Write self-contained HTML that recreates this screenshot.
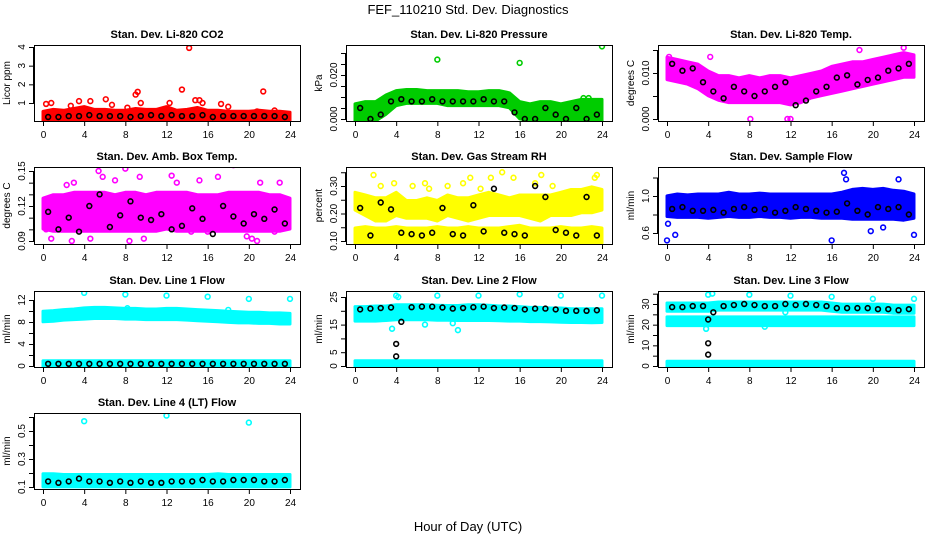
<!DOCTYPE html>
<html><head><meta charset="utf-8">
<style>
html,body{margin:0;padding:0;background:#fff;}
svg{display:block;font-family:"Liberation Sans",Arial,sans-serif;}
</style></head>
<body>
<svg id="chart" width="936" height="540" viewBox="0 0 936 540" xmlns="http://www.w3.org/2000/svg">
<text x="468" y="14" font-size="13" text-anchor="middle">FEF_110210  Std. Dev. Diagnostics</text>
<text x="468" y="531" font-size="13" text-anchor="middle">Hour of Day (UTC)</text>
</svg>
<script>
// ---- data ----
const bandHours = [0,1,2,3,4,5,6,7,8,9,10,11,12,13,14,15,16,17,18,19,20,21,22,23,24];
const blackHours = [0.5,1.5,2.5,3.5,4.5,5.5,6.5,7.5,8.5,9.5,10.5,11.5,12.5,13.5,14.5,15.5,16.5,17.5,18.5,19.5,20.5,21.5,22.5,23.5];
const xTicks = [0,4,8,12,16,20,24];

// P1 CO2
const co2Lo = [0.18,0.18,0.18,0.18,0.18,0.18,0.18,0.18,0.18,0.18,0.18,0.18,0.18,0.18,0.18,0.18,0.18,0.18,0.18,0.18,0.18,0.18,0.18,0.18,0.18];
const co2Hi = [0.45,0.55,0.5,0.6,0.7,0.55,0.55,0.5,0.5,0.6,0.55,0.55,0.7,0.5,0.55,0.65,0.5,0.5,0.45,0.45,0.45,0.5,0.45,0.45,0.4];
const co2Black = [0.25,0.25,0.3,0.3,0.35,0.3,0.3,0.3,0.25,0.3,0.35,0.3,0.35,0.3,0.3,0.35,0.25,0.3,0.3,0.3,0.3,0.3,0.3,0.25];
const co2OutX = [14.2,13.5,21.4,9.2,9.0,9.5,12.3,6.1,3.5,4.6,0.8,17.3,14.8,15.2,15.5,22.5,20.8,2.7,6.7,8.2,18,0.3];
const co2OutY = [3.95,1.72,1.62,1.6,1.45,1.0,1.0,1.2,1.1,1.1,1.0,0.95,1.15,1.15,1.0,0.6,0.55,0.85,0.9,0.75,0.8,0.95];

// P2 pressure
const presLo = [0.0,0.0,0.0,0.003,0.007,0.008,0.008,0.008,0.008,0.007,0.007,0.007,0.007,0.007,0.007,0.006,0.001,0.0,0.0,0.0,0.0,0.0,0.0,0.0,0.0];
const presHi = [0.006,0.007,0.007,0.01,0.012,0.0125,0.0125,0.012,0.012,0.012,0.012,0.0115,0.0115,0.012,0.012,0.011,0.007,0.006,0.007,0.007,0.006,0.007,0.008,0.008,0.008];
const presBlack = [0.005,0.0,0.002,0.008,0.009,0.008,0.008,0.009,0.008,0.008,0.008,0.008,0.009,0.008,0.008,0.003,0.0,0.0,0.005,0.002,0.0,0.005,0.0,0.002];
const presOutX = [8,16,24,14.2,22.2,22.7];
const presOutY = [0.027,0.0255,0.033,0.0105,0.0095,0.0095];

// P3 Li-820 temp
const ltLo = [0.009,0.0085,0.008,0.007,0.0055,0.0045,0.004,0.004,0.004,0.004,0.004,0.004,0.0035,0.004,0.005,0.0055,0.006,0.0065,0.007,0.0075,0.008,0.0085,0.009,0.0095,0.0095];
const ltHi = [0.013,0.0125,0.012,0.0115,0.01,0.009,0.009,0.0085,0.009,0.0085,0.009,0.009,0.0085,0.009,0.0095,0.01,0.011,0.0115,0.012,0.012,0.0125,0.013,0.0135,0.014,0.0135];
const ltBlack = [0.012,0.0105,0.011,0.008,0.006,0.0045,0.007,0.006,0.005,0.006,0.007,0.008,0.003,0.004,0.006,0.007,0.009,0.0095,0.0075,0.0085,0.009,0.0105,0.011,0.012];
const ltOutX = [8.1,11.7,12,4.2,18.7,23,0.2];
const ltOutY = [0.0,0.0,0.0,0.0135,0.015,0.0155,0.0135];

// P4 amb box temp
const abLo = [0.102,0.1,0.1,0.1,0.1,0.1,0.1,0.1,0.1,0.1,0.1,0.1,0.102,0.1,0.1,0.1,0.1,0.1,0.1,0.1,0.1,0.1,0.1,0.1,0.102];
const abHi = [0.125,0.128,0.128,0.13,0.13,0.13,0.13,0.128,0.13,0.13,0.128,0.13,0.13,0.13,0.13,0.128,0.128,0.128,0.13,0.13,0.13,0.13,0.128,0.128,0.125];
const abBlack = [0.115,0.1,0.11,0.098,0.12,0.13,0.102,0.112,0.124,0.11,0.108,0.113,0.1,0.103,0.118,0.109,0.096,0.12,0.111,0.105,0.113,0.109,0.117,0.105];
const abOutX = [0.3,0.8,2.3,2.8,3.0,4.6,5.4,5.8,6.5,6.9,7.0,8.0,8.4,9.4,9.8,12.5,13.0,14.4,15.2,16.0,17.0,18.5,19.8,20.3,20.8,21.1,22.5,23.0];
const abOutY = [0.1,0.092,0.138,0.09,0.14,0.092,0.15,0.145,0.156,0.158,0.142,0.152,0.09,0.145,0.092,0.146,0.14,0.098,0.142,0.098,0.145,0.155,0.094,0.092,0.09,0.14,0.098,0.14];

// P5 RH
const rhLo = [0.1,0.1,0.1,0.1,0.1,0.1,0.1,0.1,0.1,0.1,0.1,0.1,0.1,0.1,0.1,0.1,0.1,0.1,0.1,0.1,0.1,0.1,0.1,0.1,0.1];
const rhHi = [0.14,0.145,0.14,0.14,0.145,0.14,0.14,0.14,0.145,0.14,0.14,0.145,0.14,0.14,0.14,0.145,0.15,0.14,0.14,0.14,0.145,0.14,0.14,0.145,0.14];
const rhUpLo = [0.22,0.2,0.18,0.18,0.2,0.19,0.19,0.19,0.18,0.2,0.19,0.18,0.19,0.2,0.2,0.2,0.2,0.19,0.18,0.2,0.2,0.2,0.21,0.21,0.22];
const rhUpHi = [0.27,0.26,0.25,0.25,0.27,0.24,0.24,0.25,0.24,0.26,0.25,0.25,0.26,0.27,0.26,0.25,0.26,0.26,0.26,0.26,0.27,0.28,0.28,0.29,0.28];
const rhBlack = [0.22,0.12,0.24,0.215,0.13,0.125,0.12,0.13,0.22,0.125,0.12,0.23,0.135,0.29,0.13,0.125,0.12,0.3,0.26,0.14,0.13,0.12,0.26,0.12];
const rhOutX = [1.8,2.5,3.8,5.6,6.8,7.2,9.0,10.5,11.2,12.2,13.2,14.3,15.4,17.5,18.1,19.2,23.3,23.5];
const rhOutY = [0.34,0.3,0.31,0.3,0.31,0.29,0.3,0.31,0.33,0.29,0.33,0.35,0.33,0.31,0.34,0.3,0.33,0.34];

// P6 sample flow
const sfLo = [0.8,0.79,0.79,0.79,0.78,0.79,0.8,0.79,0.79,0.8,0.79,0.79,0.78,0.79,0.79,0.78,0.78,0.78,0.77,0.77,0.77,0.77,0.77,0.76,0.78];
const sfHi = [0.98,1.0,0.99,1.0,1.0,1.0,1.02,1.0,1.0,1.01,1.0,1.0,1.0,1.0,1.0,1.0,1.0,1.02,1.05,1.06,1.05,1.06,1.04,1.03,1.0];
const sfBlack = [0.86,0.88,0.84,0.84,0.85,0.82,0.86,0.88,0.85,0.86,0.82,0.84,0.88,0.86,0.84,0.82,0.83,0.92,0.84,0.8,0.88,0.86,0.88,0.8];
const sfOutX = [0,16,17.2,24,0.8,0.1,17.4,19.8,21.0,22.5];
const sfOutY = [0.52,0.52,1.25,0.58,0.58,0.7,1.18,0.62,0.66,1.18];

// P7 line 1
const l1Lo = [8.4,8.5,8.7,8.8,8.9,9.0,9.0,9.0,8.9,8.9,8.8,8.8,8.8,8.8,8.7,8.6,8.5,8.4,8.3,8.2,8.2,8.1,8.1,8.0,8.0];
const l1Hi = [9.6,9.7,9.9,10.0,10.2,10.3,10.3,10.2,10.1,10.1,10.0,10.0,10.1,10.1,10.0,9.9,9.8,9.7,9.6,9.5,9.4,9.4,9.3,9.3,9.2];
const l1Low = [0.15,0.15,0.15,0.15,0.15,0.15,0.15,0.15,0.15,0.15,0.15,0.15,0.15,0.15,0.15,0.15,0.15,0.15,0.15,0.15,0.15,0.15,0.15,0.15,0.15];
const l1LowHi = [0.6,0.6,0.6,0.6,0.6,0.6,0.6,0.6,0.6,0.6,0.6,0.6,0.6,0.6,0.6,0.6,0.6,0.6,0.6,0.6,0.6,0.6,0.6,0.6,0.6];
const l1Black = [0.4,0.4,0.4,0.4,0.4,0.4,0.4,0.4,0.4,0.4,0.4,0.4,0.4,0.4,0.4,0.4,0.4,0.4,0.4,0.4,0.4,0.4,0.4,0.4];
const l1OutX = [4,8,12,16,20,24,8.2,18];
const l1OutY = [13.3,13.0,12.8,12.6,12.2,12.2,10.5,10.2];

// P8 line 2
const l2Lo = [17,17,17,17.2,17.5,17.5,17.5,17.5,17.3,17.3,17.2,17.2,17.2,17.2,17.1,17.0,17.0,16.8,16.8,16.7,16.6,16.5,16.5,16.4,16.5];
const l2Hi = [20.8,20.8,21,21,21.5,21.5,21.5,21.5,21.3,21.2,21.2,21.5,21.5,21.3,21,21,20.8,20.5,20.5,20.3,20.3,20,20,20,20];
const l2Low = [0.2,0.2,0.2,0.2,0.2,0.2,0.2,0.2,0.2,0.2,0.2,0.2,0.2,0.2,0.2,0.2,0.2,0.2,0.2,0.2,0.2,0.2,0.2,0.2,0.2];
const l2LowHi = [1.2,1.2,1.2,1.2,1.2,1.2,1.2,1.2,1.2,1.2,1.2,1.2,1.2,1.2,1.2,1.2,1.2,1.2,1.2,1.2,1.2,1.2,1.2,1.2,1.2];
const l2Black = [20.5,20.8,21,21.2,16,21.3,21.5,21.5,21.2,20.8,21,21.3,21.5,21,21.2,21,20.5,20.8,20.8,20.5,20,20,20,20.2];
const l2BOutX = [4,4];
const l2BOutY = [8,3.5];
const l2OutX = [4,8,12,16,20,24,3.6,6.8,9.5,10.0,4.2];
const l2OutY = [25.5,25.5,25.5,26,25.5,25.5,13.5,15,15.5,13,25];

// P9 line 3
const l3Lo = [20.5,20.5,20.5,20.5,20.5,20.5,20.5,20.5,20.5,20.5,20.5,20.5,20.5,20.5,20.5,20.5,20.5,20.5,20.5,20.5,20.5,20.5,20.5,20.5,20.5];
const l3Hi = [22.8,22.8,22.8,22.8,22.8,22.8,22.8,22.8,22.8,22.8,22.8,22.8,22.8,22.8,22.8,22.8,22.8,22.8,22.8,22.8,22.8,22.8,22.8,22.8,22.8];
const l3Low = [0.2,0.2,0.2,0.2,0.2,0.2,0.2,0.2,0.2,0.2,0.2,0.2,0.2,0.2,0.2,0.2,0.2,0.2,0.2,0.2,0.2,0.2,0.2,0.2,0.2];
const l3LowHi = [1.3,1.3,1.3,1.3,1.3,1.3,1.3,1.3,1.3,1.3,1.3,1.3,1.3,1.3,1.3,1.3,1.3,1.3,1.3,1.3,1.3,1.3,1.3,1.3,1.3];
const l3TopLo = [27.5,27.5,27.5,27.5,27.5,28,28,28,28,28,28,28,28,28,28,28,27.5,27,27,27,27,27,26.5,26.5,26.5];
const l3TopHi = [29.5,29.5,29.5,29.5,29.5,30,30,30,30,30,30,30,30,30,30,30,29.5,29,29,29,29,29,28.5,28.5,28.5];
const l3Black = [28.5,28.5,29,29,26,29,29.5,30,29.5,29,29,30,29.5,30,29.5,29,28,28,28,28,27.5,27.5,27,27.5];
const l3BOutX = [4,4,4];
const l3BOutY = [22.5,11,5.5];
const l3OutX = [4,4.4,8,12,16,20,24,3.8,9.5,11.5];
const l3OutY = [34.5,35,34.5,34,33.5,32.5,32.5,18,19,26];

// P10 line 4
const l4Lo = [0.115,0.115,0.115,0.115,0.115,0.115,0.115,0.115,0.115,0.115,0.115,0.115,0.115,0.115,0.115,0.115,0.115,0.115,0.115,0.115,0.115,0.115,0.115,0.115,0.115];
const l4Hi = [0.18,0.18,0.175,0.175,0.175,0.175,0.175,0.175,0.175,0.175,0.175,0.175,0.175,0.175,0.175,0.175,0.175,0.18,0.175,0.175,0.175,0.175,0.175,0.175,0.175];
const l4Black = [0.14,0.13,0.14,0.16,0.14,0.14,0.13,0.14,0.13,0.14,0.13,0.13,0.14,0.14,0.14,0.15,0.14,0.14,0.15,0.15,0.15,0.14,0.14,0.15];
const l4OutX = [4,12,20];
const l4OutY = [0.57,0.61,0.56];

// ---- drawing ----
const NS = "http://www.w3.org/2000/svg";
const svg = document.getElementById('chart');
function mk(tag, attrs, parent){
  const e = document.createElementNS(NS, tag);
  for (const k in attrs) e.setAttribute(k, attrs[k]);
  (parent||svg).appendChild(e);
  return e;
}

const panels = [
 {name:'co2',title:'Stan. Dev. Li-820 CO2',ylab:'Licor ppm',box:[34,45,300,121],v0:1,p0:103,v1:4,p1:47,
  yt:[1,2,3,4],yl:['1','2','3','4'],color:'#ff0000',
  bands:[[co2Lo,co2Hi]],black:co2Black,outX:co2OutX,outY:co2OutY},
 {name:'pressure',title:'Stan. Dev. Li-820 Pressure',ylab:'kPa',box:[346,45,612,121],v0:0,p0:119,v1:0.02,p1:75,
  yt:[0,0.005,0.01,0.015,0.02,0.025,0.03],yl:['0.000','','','','0.020','',''],color:'#00cc00',
  bands:[[presLo,presHi]],black:presBlack,outX:presOutX,outY:presOutY},
 {name:'li820-temp',title:'Stan. Dev. Li-820 Temp.',ylab:'degrees C',box:[658,45,924,121],v0:0,p0:119,v1:0.01,p1:73,
  yt:[0,0.005,0.01,0.015],yl:['0.000','','0.010',''],color:'#ff00ff',
  bands:[[ltLo,ltHi]],black:ltBlack,outX:ltOutX,outY:ltOutY},
 {name:'amb-box-temp',title:'Stan. Dev. Amb. Box Temp.',ylab:'degrees C',box:[34,167,300,244],v0:0.09,p0:241,v1:0.15,p1:171,
  yt:[0.09,0.1,0.11,0.12,0.13,0.14,0.15],yl:['0.09','','','0.12','','','0.15'],color:'#ff00ff',
  bands:[[abLo,abHi]],black:abBlack,outX:abOutX,outY:abOutY},
 {name:'gas-rh',title:'Stan. Dev. Gas Stream RH',ylab:'percent',box:[346,167,612,244],v0:0.1,p0:241,v1:0.3,p1:186,
  yt:[0.1,0.15,0.2,0.25,0.3,0.35],yl:['0.10','','0.20','','0.30',''],color:'#ffff00',
  bands:[[rhLo,rhHi],[rhUpLo,rhUpHi]],black:rhBlack,outX:rhOutX,outY:rhOutY},
 {name:'sample-flow',title:'Stan. Dev. Sample Flow',ylab:'ml/min',box:[658,167,924,244],v0:0.6,p0:233,v1:1.0,p1:196,
  yt:[0.6,0.8,1.0,1.2],yl:['0.6','','1.0',''],color:'#0000ff',
  bands:[[sfLo,sfHi]],black:sfBlack,outX:sfOutX,outY:sfOutY},
 {name:'line1-flow',title:'Stan. Dev. Line 1 Flow',ylab:'ml/min',box:[34,291,300,367],v0:0,p0:366,v1:12,p1:300,
  yt:[0,2,4,6,8,10,12],yl:['0','','4','','8','','12'],color:'#00ffff',
  bands:[[l1Lo,l1Hi],[l1Low,l1LowHi]],black:l1Black,outX:l1OutX,outY:l1OutY},
 {name:'line2-flow',title:'Stan. Dev. Line 2 Flow',ylab:'ml/min',box:[346,291,612,367],v0:0,p0:366,v1:25,p1:297,
  yt:[0,5,10,15,20,25],yl:['0','5','','15','','25'],color:'#00ffff',
  bands:[[l2Lo,l2Hi],[l2Low,l2LowHi]],black:l2Black,bx:l2BOutX,by:l2BOutY,outX:l2OutX,outY:l2OutY},
 {name:'line3-flow',title:'Stan. Dev. Line 3 Flow',ylab:'ml/min',box:[658,291,924,367],v0:0,p0:366,v1:30,p1:304,
  yt:[0,5,10,15,20,25,30,35],yl:['0','','10','','20','','30',''],color:'#00ffff',
  bands:[[l3Lo,l3Hi],[l3Low,l3LowHi],[l3TopLo,l3TopHi]],black:l3Black,bx:l3BOutX,by:l3BOutY,outX:l3OutX,outY:l3OutY},
 {name:'line4-flow',title:'Stan. Dev. Line 4 (LT) Flow',ylab:'ml/min',box:[34,413,300,489],v0:0.1,p0:487,v1:0.5,p1:431,
  yt:[0.1,0.2,0.3,0.4,0.5,0.6],yl:['0.1','','0.3','','0.5',''],color:'#00ffff',
  bands:[[l4Lo,l4Hi]],black:l4Black,outX:l4OutX,outY:l4OutY}
];

panels.forEach(P => {
  const [L,T,R,B] = P.box;
  const g = mk('g',{});
  
  
  const xs = v => 43 + (v/24)*(290-43) + (L-34);
  const ys = v => P.p0 + (v-P.v0)*(P.p1-P.p0)/(P.v1-P.v0);
  const clip = 'clip-' + P.name;
  const cp = mk('clipPath',{id:clip},g);
  mk('rect',{x:L,y:T,width:R-L,height:B-T},cp);
  const dg = mk('g',{'clip-path':'url(#'+clip+')'},g);
  // bands (dense point clouds)
  P.bands.forEach((bd,bi) => {
    const lo = bd[0], hi = bd[1];
    let d = '';
    bandHours.forEach((h,i)=>{ d += (i?'L':'M') + xs(h).toFixed(1) + ' ' + (ys(hi[i])-2).toFixed(1); });
    for (let i=bandHours.length-1;i>=0;i--) d += 'L' + xs(bandHours[i]).toFixed(1) + ' ' + (ys(lo[i])+2).toFixed(1);
    d += 'Z';
    const p = mk('path',{d:d,fill:P.color,stroke:P.color,'stroke-width':3,'stroke-linejoin':'round'},dg);
    
    
  });
  // colored outliers
  P.outX.forEach((x,i)=>{
    const c = mk('circle',{cx:xs(x),cy:ys(P.outY[i]),r:2.4,fill:'none',stroke:P.color,'stroke-width':1.6},dg);
    
    
  });
  // black points
  P.black.forEach((v,i)=>{
    const c = mk('circle',{cx:xs(blackHours[i]),cy:ys(v),r:2.4,fill:'none',stroke:'#000','stroke-width':1.6},dg);
    
    
  });
  if (P.bx) P.bx.forEach((x,i)=>{
    const c = mk('circle',{cx:xs(x),cy:ys(P.by[i]),r:2.4,fill:'none',stroke:'#000','stroke-width':1.6},dg);
    
    
  });
  // box
  const bx = mk('rect',{x:L+0.5,y:T+0.5,width:R-L,height:B-T,fill:'none',stroke:'#000','stroke-width':1},g);
  
  
  // title
  const t = mk('text',{x:(L+R)/2,y:T-7,'font-size':11,'font-weight':'bold','text-anchor':'middle'},g);
  t.textContent = P.title;
  
  
  // x axis
  const xa = mk('g',{},g);
  
  
  mk('line',{x1:xs(0),x2:xs(24),y1:B+0.5,y2:B+0.5,stroke:'#000'},xa);
  xTicks.forEach(v=>{
    mk('line',{x1:xs(v)+0.5,x2:xs(v)+0.5,y1:B,y2:B+5,stroke:'#000'},xa);
    const tl = mk('text',{x:xs(v)+0.5,y:B+17,'font-size':10,'text-anchor':'middle'},xa);
    tl.textContent = v;
    
    
  });
  // y axis
  const ya = mk('g',{},g);
  
  
  const inb = P.yt.filter(v => ys(v) >= T-1 && ys(v) <= B+1);
  mk('line',{x1:L-0.5,x2:L-0.5,y1:ys(inb[0]),y2:ys(inb[inb.length-1]),stroke:'#000'},ya);
  P.yt.forEach((v,i)=>{
    const y = ys(v);
    if (y < T-1 || y > B+1) return;
    mk('line',{x1:L-5,x2:L,y1:y+0.5,y2:y+0.5,stroke:'#000'},ya);
    if (P.yl[i]) {
      const tl = mk('text',{x:L-9,y:y,'font-size':10,'text-anchor':'middle',transform:'rotate(-90 '+(L-9)+' '+y+')'},ya);
      tl.textContent = P.yl[i];
      
      
    }
  });
  const yt = mk('text',{x:L-24,y:(T+B)/2,'font-size':10,'text-anchor':'middle',transform:'rotate(-90 '+(L-24)+' '+((T+B)/2)+')'},ya);
  yt.textContent = P.ylab;
  
  
});
</script>
</body></html>
